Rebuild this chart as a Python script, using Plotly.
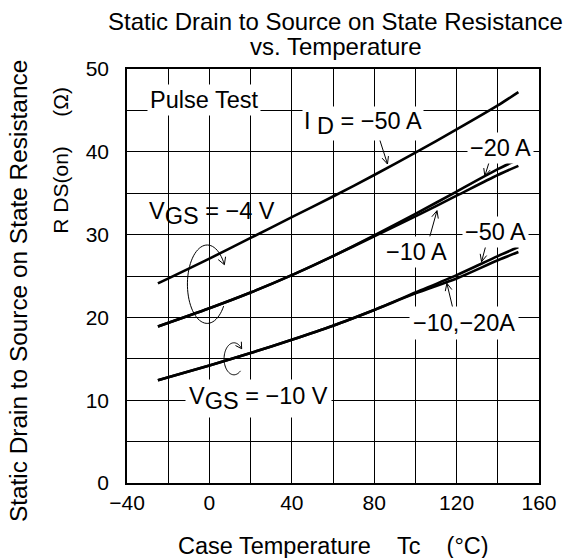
import math
import plotly.graph_objects as go

# ---------------- data ----------------
temps = [-25, 0, 20, 40, 60, 80, 100, 120, 140, 150]
r_vgs4_id50 = [24.1, 27.1, 29.6, 32.1, 34.6, 37.2, 39.9, 42.7, 45.6, 47.2]
r_vgs4_id20 = [18.9, 21.1, 23.0, 25.1, 27.4, 29.9, 32.5, 35.2, 37.9, 39.1]
r_vgs4_id10 = [18.9, 21.1, 23.0, 25.1, 27.4, 29.8, 32.2, 34.7, 37.2, 38.3]
r_vgs10_id50 = [12.4, 14.2, 15.7, 17.3, 19.0, 20.9, 23.0, 25.1, 27.4, 28.5]
r_vgs10_id10_20 = [12.4, 14.2, 15.7, 17.3, 19.0, 20.9, 22.9, 24.7, 26.9, 27.9]

x_tickvals = [-40, -20, 0, 20, 40, 60, 80, 100, 120, 140, 160]
x_ticktext = ["\u221240", "", "0", "", "40", "", "80", "", "120", "", "160"]
y_tickvals = [0, 5, 10, 15, 20, 25, 30, 35, 40, 45, 50]
y_ticktext = ["0", "", "10", "", "20", "", "30", "", "40", "", "50"]

FONT = "Liberation Sans, Arial, Helvetica, sans-serif"

# ------------- geometry helpers (pixel -> data / paper) -------------
W, H = 569, 558
ML, MR, MT, MB = 127, 26, 69, 75
X0, X1 = -40, 160
Y0, Y1 = 0, 50
PW = W - ML - MR
PH = H - MT - MB


def dx(px):
    return X0 + (px - ML) / PW * (X1 - X0)


def dy(py):
    return Y0 + (MT + PH - py) / PH * (Y1 - Y0)


def ppx(px):
    return (px - ML) / PW


def ppy(py):
    return (MT + PH - py) / PH


def path_from_px(pts):
    return "M " + " L ".join(f"{dx(x):.3f},{dy(y):.3f}" for x, y in pts)


def arrow_shapes(tail, tip, head=8, ang=25):
    tx, ty = tail
    hx, hy = tip
    a = math.atan2(ty - hy, tx - hx)
    p1 = (hx + head * math.cos(a + math.radians(ang)), hy + head * math.sin(a + math.radians(ang)))
    p2 = (hx + head * math.cos(a - math.radians(ang)), hy + head * math.sin(a - math.radians(ang)))
    return [
        dict(type="path", path=path_from_px([tail, tip]), line=dict(color="black", width=1)),
        dict(type="path", path=path_from_px([p1, tip, p2]), line=dict(color="black", width=1)),
    ]


def arc_shapes(cx, cy, rx, ry, a0, a1, head=8, ang=30):
    n = 60
    pts = []
    for i in range(n + 1):
        t = math.radians(a0 + (a1 - a0) * i / n)
        pts.append((cx + rx * math.cos(t), cy + ry * math.sin(t)))
    shapes = [dict(type="path", path=path_from_px(pts), line=dict(color="black", width=1))]
    tip = pts[-1]
    prev = pts[-4]
    shapes += arrow_shapes(prev, tip, head, ang)[1:]
    return shapes


fig = go.Figure()
for ys in [r_vgs4_id50, r_vgs4_id20, r_vgs4_id10, r_vgs10_id50, r_vgs10_id10_20]:
    fig.add_trace(go.Scatter(x=temps, y=ys, mode="lines",
                             line=dict(color="black", width=2.6, shape="spline", smoothing=0.8),
                             showlegend=False, hoverinfo="skip"))

shapes = []
shapes += arrow_shapes((381.7, 138.3), (390, 164))
shapes += arrow_shapes((493.3, 160), (488.3, 176))
shapes += arrow_shapes((432.7, 236.7), (440, 210.7))
shapes += arrow_shapes((489.3, 245.7), (485, 261.7))
shapes += arrow_shapes((456, 308.3), (450, 283.3))
shapes += arc_shapes(208, 284.2, 20, 39.2, 34, 330)
shapes += arc_shapes(235, 358.8, 10, 16, 49, 321, head=7)

LBL = dict(family=FONT, size=23.5, color="black")


def lbl(text, cxp, cyp, pad=3, bg="white"):
    return dict(text=text, x=dx(cxp), y=dy(cyp), xref="x", yref="y", showarrow=False,
                font=LBL, bgcolor=bg, borderpad=pad, xanchor="center", yanchor="middle")


def ptxt(text, cxp, cyp, size, angle=0):
    return dict(text=text, x=ppx(cxp), y=ppy(cyp), xref="paper", yref="paper", showarrow=False,
                textangle=angle, font=dict(family=FONT, size=size, color="black"),
                xanchor="center", yanchor="middle")


SUBSZ = "<span style='font-size:23.5px'>"
annotations = [
    lbl("Pulse Test", 205, 100, pad=2),
    lbl("I <sub>" + SUBSZ + "D</span></sub> = \u221250 A", 365, 123, pad=1),
    lbl("\u221220 A", 504, 147.7, pad=2),
    lbl("V<sub>" + SUBSZ + "GS</span></sub> = \u22124 V", 213, 213, pad=1, bg="rgba(0,0,0,0)"),
    lbl("\u221210 A", 419, 251.7, pad=2),
    lbl("\u221250 A", 499, 231.7, pad=2),
    lbl("\u221210,\u221220A", 467, 323.3, pad=3),
    lbl("V<sub>" + SUBSZ + "GS</span></sub> = \u221210 V", 260, 398, pad=3),
    # title
    ptxt("Static Drain to Source on State Resistance", 338, 22, 24),
    ptxt("vs. Temperature", 338, 47, 24),
    # x-axis title
    ptxt("Case Temperature\u00a0\u00a0\u00a0\u00a0Tc\u00a0\u00a0\u00a0\u00a0(\u00b0C)", 336, 546, 23.5),
    # y-axis title
    ptxt("Static Drain to Source on State Resistance", 17, 291, 24.4, -90),
    ptxt("R DS(on)", 59, 190, 21, -90),
    ptxt("(\u03a9)", 59, 102, 21, -90),
]

fig.update_layout(
    width=W, height=H,
    margin=dict(l=ML, r=MR, t=MT, b=MB, pad=0),
    paper_bgcolor="white", plot_bgcolor="white",
    font=dict(family=FONT, size=21, color="black"),
    shapes=shapes, annotations=annotations,
    xaxis=dict(range=[X0, X1], tickmode="array", tickvals=x_tickvals, ticktext=x_ticktext,
               showgrid=True, gridcolor="black", gridwidth=1, zeroline=False,
               showline=True, linecolor="black", linewidth=1.5, mirror=True, ticks="",
               ticklabelstandoff=0, tickfont=dict(size=21)),
    yaxis=dict(range=[Y0, Y1], tickmode="array", tickvals=y_tickvals, ticktext=y_ticktext,
               showgrid=True, gridcolor="black", gridwidth=1, zeroline=False,
               showline=True, linecolor="black", linewidth=1.5, mirror=True, ticks="",
               ticklabelstandoff=12, tickfont=dict(size=21)),
)

fig.write_html("out.html", config={"displayModeBar": False},
               post_script="document.body.style.margin='0';document.body.style.overflow='hidden';")
